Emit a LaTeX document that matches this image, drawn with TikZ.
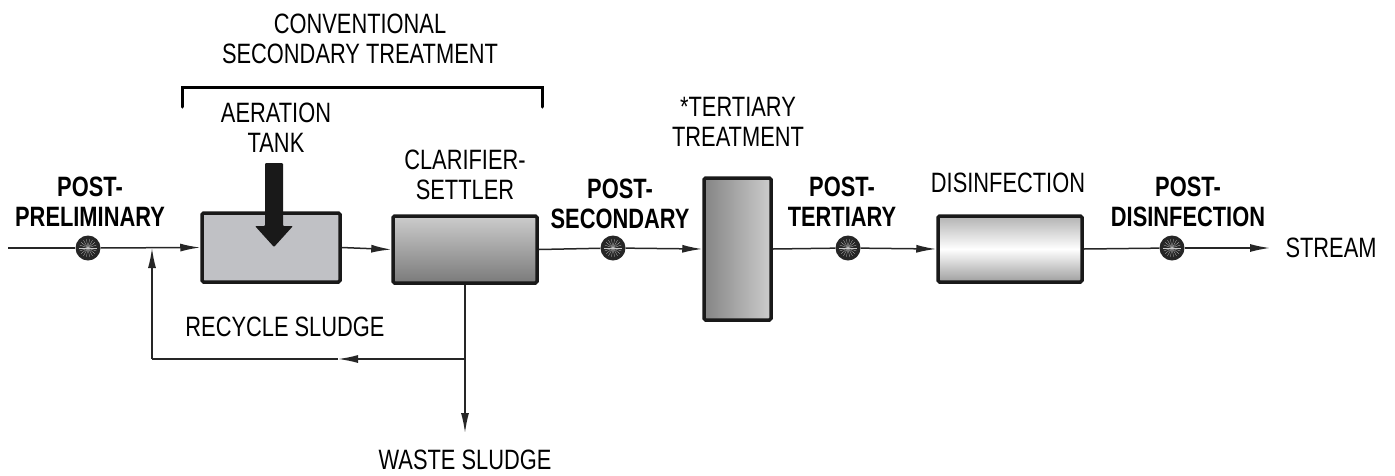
\documentclass[tikz,border=0pt]{standalone}
\usepackage{fontspec}
\setmainfont{Liberation Sans}[FakeStretch=0.78]
\usetikzlibrary{arrows.meta}

\definecolor{tankgray}{HTML}{C0C1C5}
\definecolor{dotgray}{HTML}{262626}

\begin{document}
\begin{tikzpicture}[x=1pt,y=-1pt]
\tikzstyle{every node}=[font=\fontsize{28}{30}\selectfont,align=center];
\tikzstyle{unit}=[draw=black!90,line width=3.5pt,rounded corners=1.5pt,inner sep=0pt];
\tikzstyle{probe}=[circle,fill=dotgray,minimum size=25pt,inner sep=0pt,
  path picture={\foreach \a in {0,20,...,340}
    \draw[gray!45,line width=0.25pt] (path picture bounding box.center) -- ++(\a:9pt);}];
\tikzstyle{pipe}=[line width=1.5pt,black!85];
\tikzstyle{flow}=[pipe,-{Latex[length=20pt,width=8pt]}];
\tikzstyle{stage}=[font=\fontsize{28}{30}\selectfont\bfseries];
\useasboundingbox (0,0) rectangle (1395,475);

% process units
\node[unit,fill=tankgray,minimum width=138pt,minimum height=69pt,
  path picture={
    \draw[white!85!tankgray,line width=0.6pt] (202,227) -- (340,227) (202,245) -- (340,245);
    \draw[white!80!tankgray,line width=0.6pt,dashed] (204,228) -- (338,246)
      (204,246) -- (330,283) (285,214) -- (340,229);}] (tank) at (271,247.5) {};
\node[unit,top color=black!20,bottom color=black!52,minimum width=144pt,minimum height=67pt] (clar) at (465,249.5) {};
\node[unit,left color=black!48,right color=black!20,minimum width=67pt,minimum height=142pt] (tert) at (737.5,249) {};
\node[unit,top color=black!30,bottom color=black!38,middle color=white,minimum width=144pt,minimum height=66pt] (dis) at (1010,249) {};

% aeration input
\fill[black!90,rounded corners=1pt] (265,163) -- (283,163) -- (283,226) -- (293,226)
  -- (274,247) -- (255,226) -- (265,226) -- cycle;

% sampling points
\node[probe] (p1) at (88,248) {};
\node[probe] (p2) at (613,248) {};
\node[probe] (p3) at (848,248) {};
\node[probe] (p4) at (1172,248) {};

\coordinate (inlet) at (8,248);
\coordinate (join) at (152,248);
\coordinate (split) at (465,359);
\coordinate (back) at (152,359);
\coordinate (mid) at (338,359);
\coordinate (waste) at (465,433);
\coordinate (outlet) at (1270,248);

% main stream
\draw[pipe] (inlet) -- (p1);
\draw[flow] (p1) -- (tank.west);
\draw[flow] (tank.east) -- (clar.west);
\draw[pipe] (clar.east) -- (p2);
\draw[flow] (p2) -- (tert.west);
\draw[pipe] (tert.east) -- (p3);
\draw[flow] (p3) -- (dis.west);
\draw[pipe] (dis.east) -- (p4);
\draw[flow] (p4) -- (outlet);

% sludge lines
\draw[pipe] (clar.south) -- (split);
\draw[flow] (split) -- (mid);
\draw[pipe] (mid) -- (back);
\draw[flow] (back) -- (join);
\draw[flow] (split) -- (waste);

% bracket
\draw[line width=3pt,line cap=round] (182,107) -- (182,87) -- (542,87) -- (542,107);

% labels
\node (conv) at (360,39) {CONVENTIONAL\\SECONDARY TREATMENT};
\node (aerl) at (276,128) {AERATION\\TANK};
\node (clarl) at (465,175) {CLARIFIER-\\SETTLER};
\node (tertl) at (738,122) {*TERTIARY\\TREATMENT};
\node (disl) at (1008,183) {DISINFECTION};
\node[stage] (s1) at (90,201.5) {POST-\\PRELIMINARY};
\node[stage] (s2) at (620,203.5) {POST-\\SECONDARY};
\node[stage] (s3) at (842,201.5) {POST-\\TERTIARY};
\node[stage] (s4) at (1188,202) {POST-\\DISINFECTION};
\node[anchor=west] (stream) at (1282,248) {STREAM};
\node (recl) at (285,327) {RECYCLE SLUDGE};
\node (wastel) at (465,460) {WASTE SLUDGE};
\end{tikzpicture}
\end{document}
